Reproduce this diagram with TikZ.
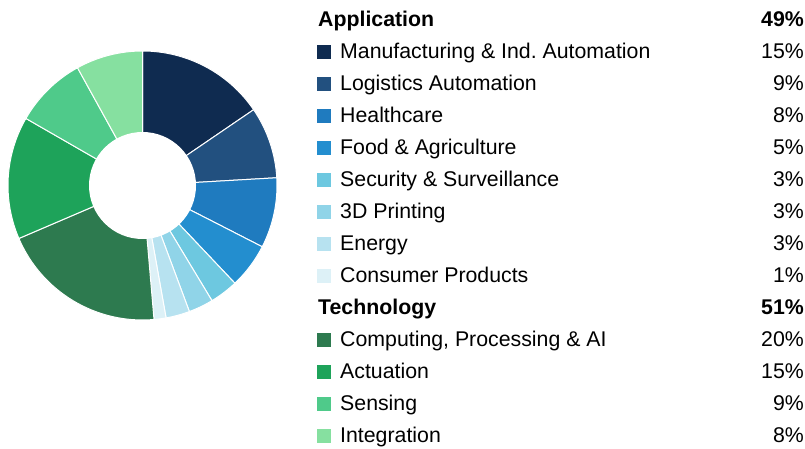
\documentclass[tikz,border=0pt]{standalone}
\usepackage{fontspec}
\setmainfont{Liberation Sans}
\usepackage{tikz}
\definecolor{manuf}{HTML}{0F2B50}
\definecolor{logist}{HTML}{22507F}
\definecolor{health}{HTML}{1F7BBF}
\definecolor{food}{HTML}{238ECF}
\definecolor{secur}{HTML}{6DC8E0}
\definecolor{print}{HTML}{90D4E8}
\definecolor{energy}{HTML}{B7E2F0}
\definecolor{consum}{HTML}{DDF1F7}
\definecolor{comput}{HTML}{2D7A4F}
\definecolor{actua}{HTML}{1EA35A}
\definecolor{sensing}{HTML}{4FCA8A}
\definecolor{integr}{HTML}{86E0A0}
\frenchspacing

\begin{document}
\begin{tikzpicture}[x=1pt,y=1pt,
  slice/.style={draw=white,line width=1pt},
  key/.style={minimum width=13.5pt,minimum height=14pt,inner sep=0pt,anchor=south west},
  lbl/.style={anchor=base west,inner sep=0pt,font=\fontsize{21.3}{25}\selectfont},
  pct/.style={anchor=base east,inner sep=0pt,font=\fontsize{21.3}{25}\selectfont}]
  \useasboundingbox (0,0) rectangle (805,449);
  \coordinate (c) at (142.5,263.5);
  % ring
  \filldraw[slice,fill=manuf]   (c) -- +(90:134.5pt) arc(90:34.3:134.5pt) -- cycle;
  \filldraw[slice,fill=logist]  (c) -- +(34.3:134.5pt) arc(34.3:3.3:134.5pt) -- cycle;
  \filldraw[slice,fill=health]  (c) -- +(3.3:134.5pt) arc(3.3:-27.1:134.5pt) -- cycle;
  \filldraw[slice,fill=food]    (c) -- +(-27.1:134.5pt) arc(-27.1:-46.6:134.5pt) -- cycle;
  \filldraw[slice,fill=secur]   (c) -- +(-46.6:134.5pt) arc(-46.6:-58.9:134.5pt) -- cycle;
  \filldraw[slice,fill=print]   (c) -- +(-58.9:134.5pt) arc(-58.9:-69.6:134.5pt) -- cycle;
  \filldraw[slice,fill=energy]  (c) -- +(-69.6:134.5pt) arc(-69.6:-79.9:134.5pt) -- cycle;
  \filldraw[slice,fill=consum]  (c) -- +(-79.9:134.5pt) arc(-79.9:-85.1:134.5pt) -- cycle;
  \filldraw[slice,fill=comput]  (c) -- +(-85.1:134.5pt) arc(-85.1:-156.8:134.5pt) -- cycle;
  \filldraw[slice,fill=actua]   (c) -- +(-156.8:134.5pt) arc(-156.8:-209.9:134.5pt) -- cycle;
  \filldraw[slice,fill=sensing] (c) -- +(-209.9:134.5pt) arc(-209.9:-241.1:134.5pt) -- cycle;
  \filldraw[slice,fill=integr]  (c) -- +(-241.1:134.5pt) arc(-241.1:-270:134.5pt) -- cycle;
  \fill[white] (c) circle(53.5pt);
  % legend
  \node[lbl,font=\fontsize{21.3}{25}\selectfont\bfseries] (app) at (318,422) {Application};
  \node[pct,font=\fontsize{21.3}{25}\selectfont\bfseries] (appv) at (804,422) {49\%};
  \node[key,fill=manuf] (kmanuf) at (317,389.5) {};
  \node[lbl] (tmanuf) at (340,390) {Manufacturing \& Ind. Automation};
  \node[pct] (vmanuf) at (804,390) {15\%};
  \node[key,fill=logist] (klogist) at (317,357.5) {};
  \node[lbl] (tlogist) at (340,358) {Logistics Automation};
  \node[pct] (vlogist) at (804,358) {9\%};
  \node[key,fill=health] (khealth) at (317,325.5) {};
  \node[lbl] (thealth) at (340,326) {Healthcare};
  \node[pct] (vhealth) at (804,326) {8\%};
  \node[key,fill=food] (kfood) at (317,293.5) {};
  \node[lbl] (tfood) at (340,294) {Food \& Agriculture};
  \node[pct] (vfood) at (804,294) {5\%};
  \node[key,fill=secur] (ksecur) at (317,261.5) {};
  \node[lbl] (tsecur) at (340,262) {Security \& Surveillance};
  \node[pct] (vsecur) at (804,262) {3\%};
  \node[key,fill=print] (kprint) at (317,229.5) {};
  \node[lbl] (tprint) at (340,230) {3D Printing};
  \node[pct] (vprint) at (804,230) {3\%};
  \node[key,fill=energy] (kenergy) at (317,197.5) {};
  \node[lbl] (tenergy) at (340,198) {Energy};
  \node[pct] (venergy) at (804,198) {3\%};
  \node[key,fill=consum] (kconsum) at (317,165.5) {};
  \node[lbl] (tconsum) at (340,166) {Consumer Products};
  \node[pct] (vconsum) at (804,166) {1\%};
  \node[lbl,font=\fontsize{21.3}{25}\selectfont\bfseries] (tech) at (318,134) {Technology};
  \node[pct,font=\fontsize{21.3}{25}\selectfont\bfseries] (techv) at (804,134) {51\%};
  \node[key,fill=comput] (kcomput) at (317,101.5) {};
  \node[lbl] (tcomput) at (340,102) {Computing, Processing \& AI};
  \node[pct] (vcomput) at (804,102) {20\%};
  \node[key,fill=actua] (kactua) at (317,69.5) {};
  \node[lbl] (tactua) at (340,70) {Actuation};
  \node[pct] (vactua) at (804,70) {15\%};
  \node[key,fill=sensing] (ksensing) at (317,37.5) {};
  \node[lbl] (tsensing) at (340,38) {Sensing};
  \node[pct] (vsensing) at (804,38) {9\%};
  \node[key,fill=integr] (kintegr) at (317,5.5) {};
  \node[lbl] (tintegr) at (340,6) {Integration};
  \node[pct] (vintegr) at (804,6) {8\%};
\end{tikzpicture}
\end{document}
